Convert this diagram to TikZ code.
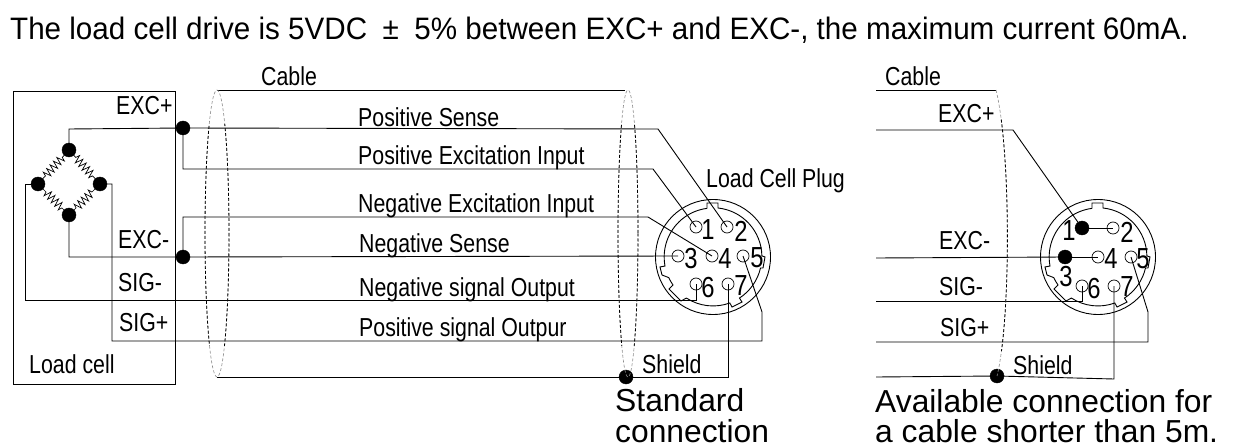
\documentclass[tikz,border=0pt]{standalone}
\usepackage{fontspec}
\setmainfont{Liberation Sans}
\newfontfamily\narrowf[FakeStretch=0.82]{Liberation Sans}
\newfontfamily\titlef[FakeStretch=0.955]{Liberation Sans}
\usetikzlibrary{decorations.pathmorphing,calc}
\tikzset{
  wire/.style={line width=0.9pt,black},
  lbl/.style={font=\narrowf\fontsize{26}{28}\selectfont,inner sep=0pt,anchor=base west,text=black},
  big/.style={font=\fontsize{31.8}{34}\selectfont,inner sep=0pt,anchor=base west},
  digit/.style={font=\narrowf\fontsize{29}{31}\selectfont,inner sep=0pt},
  dotn/.style={circle,fill=black,draw=black,inner sep=0pt,minimum size=14pt},
  pin/.style={circle,draw=black,line width=0.7pt,fill=none,inner sep=0pt,minimum size=12pt},
  resist/.style={line width=0.7pt,decorate,decoration={zigzag,segment length=5pt,amplitude=4pt,pre length=10pt,post length=10pt}},
  cabd/.style={line width=0.8pt,dash pattern=on 3pt off 2pt,black},
  cabg/.style={line width=0.6pt,dash pattern=on 3pt off 2pt,black!45},
}
\newcommand{\plugbody}[1]{%
  \begin{scope}[shift={(#1)},x=1pt,y=1pt]
  \draw[wire] (0,0) circle (57.5);
  \draw[wire] (-6,49) -- (-6,54) -- (5,54) -- (5,49)
    arc[start angle=84,end angle=1,radius=49]
    -- (52,0) -- (50,-11) -- (47.5,-11)
    arc[start angle=-13,end angle=-57,radius=49]
    -- (29,-45) -- (19,-50) -- (16.8,-46)
    arc[start angle=-70,end angle=-123,radius=49]
    -- (-32,-44) -- (-44,-32) -- (-40,-28)
    arc[start angle=-145,end angle=-155,radius=49]
    -- (-51,-18) -- (-53,-10) -- (-48,-9)
    arc[start angle=190.6,end angle=97,radius=49];
  \end{scope}}
\begin{document}
\begin{tikzpicture}[x=1pt,y=-1pt]
\useasboundingbox (0,0) rectangle (1233,446);
\fill[white] (0,0) rectangle (1233,446);
\node[big,font=\titlef\fontsize{31}{33}\selectfont] (title) at (10,40) {The load cell drive is 5VDC\enspace ±\enspace 5\% between EXC+ and EXC-, the maximum current 60mA.};
% load cell
\draw[wire] (13,91) rectangle (175,384);
\node[lbl] (le1) at (116,115) {EXC+};
\node[lbl] (le2) at (118,248) {EXC-};
\node[lbl] (ls1) at (118,291) {SIG-};
\node[lbl] (ls2) at (119,331) {SIG+};
\node[lbl] (lc) at (29,373) {Load cell};
\node[lbl] at (261,86) (cab1) {Cable};
% bridge
\node[dotn] (bt) at (69,150) {};
\node[dotn] (bl) at (38,184) {};
\node[dotn] (br) at (100,184) {};
\node[dotn] (bb) at (69,215) {};
\foreach \a/\b in {bt/bl,bt/br,bb/bl,bb/br}{\draw[resist] (\a.center) -- (\b.center);}
\node[dotn] (j1) at (183,128) {};
\node[dotn] (j2) at (183,257) {};
\node[dotn] (j3) at (626,377) {};
\coordinate (cs) at (713,257);
% connector 1
\plugbody{cs}
\node[pin] (p1) at (696,227) {};
\node[pin] (p2) at (727,227) {};
\node[pin] (p3) at (678,256) {};
\node[pin] (p4) at (712,256) {};
\node[pin] (p5) at (743,256) {};
\node[pin] (p6) at (696,284) {};
\node[pin] (p7) at (728,284) {};
\foreach \c/\t in {{(708,230)}/1,{(741,231)}/2,{(691,259)}/3,{(725,259)}/4,{(757,258)}/5,{(708,288)}/6,{(741,286)}/7}
  \node[digit] at \c {\t};
% wires left
\draw[wire] (bt) -- (69,129) -- (j1) -- (658,129) -- (p2.center);
\draw[wire] (j1) -- (183,169) -- (653,169) -- (p1.center);
\draw[wire] (j2) -- (183,217) -- (648,217) -- (p4.center);
\draw[wire] (bb) -- (69,257) -- (j2) -- (p3.center);
\draw[wire] (bl) -- (25,184) -- (25,300) -- (696,300) -- (p6.center);
\draw[wire] (br) -- (112,184) -- (112,341) -- (762,341) -- (762,312) -- (p5.center);
\draw[wire] (217,377) -- (j3) -- (728,377) -- (p7.center);
\draw[wire] (217,90) -- (625,90);
% labels
\node[lbl] (t1) at (358,127) {Positive Sense};
\node[lbl] (t2) at (358,165) {Positive Excitation Input};
\node[lbl] (t3) at (358,213) {Negative Excitation Input};
\node[lbl] (t4) at (359,253) {Negative Sense};
\node[lbl] (t5) at (359,296) {Negative signal Output};
\node[lbl] (t6) at (359,336) {Positive signal Outpur};
\node[lbl] (sh1) at (642,373) {Shield};
\node[lbl] (plug) at (706,188) {Load Cell Plug};
\node[big] (st1) at (615,411) {Standard};
\node[big] (st2) at (615,442) {connection};
% cable ellipses
\foreach \cx/\rx in {217/12,628/10}{
  \draw[cabg] (\cx,233.5) ellipse ({\rx} and 143.5);
  \begin{scope}
    \clip (0,125) rectangle (1233,345);
    \draw[cabd] (\cx,233.5) ellipse ({\rx} and 143.5);
  \end{scope}
}
% right part
\node[lbl] (cab2) at (885,86) {Cable};
\node[lbl] (re1) at (938,123) {EXC+};
\node[lbl] (re2) at (939,250) {EXC-};
\node[lbl] (rs1) at (939,295) {SIG-};
\node[lbl] (rs2) at (940,336) {SIG+};
\node[lbl] (sh2) at (1013,374) {Shield};
\coordinate (ds) at (1098,257);
\plugbody{ds}
\node[dotn] (r1) at (1082,228) {};
\node[pin] (r2) at (1113,228) {};
\node[dotn] (r3) at (1065,257) {};
\node[pin] (r4) at (1098,257) {};
\node[pin] (r5) at (1131,257) {};
\node[pin] (r6) at (1082,286) {};
\node[pin] (r7) at (1114,286) {};
\node[dotn] (j4) at (997,376) {};
\foreach \c/\t in {{(1069,231)}/1,{(1127,232)}/2,{(1066,277)}/3,{(1111,259)}/4,{(1143,259)}/5,{(1094,289)}/6,{(1127,287)}/7}
  \node[digit] at \c {\t};
\draw[wire] (r1) -- (r2.center);
\draw[wire] (r3) -- (r4.center);
\coordinate (w1) at (876,130); \coordinate (w2) at (876,258); \coordinate (w3) at (876,301);
\coordinate (w4) at (876,342); \coordinate (w5) at (876,377); \coordinate (w6) at (876,90);
\draw[wire] (w1) -- (1013,130) -- (r1);
\draw[wire] (w2) -- (r3);
\draw[wire] (w3) -- (1082,301) -- (r6.center);
\draw[wire] (w4) -- (1148,342) -- (1148,312) -- (r5.center);
\draw[wire] (w5) -- (j4) -- (1114,379) -- (r7.center);
\draw[wire] (w6) -- (996,90);
\coordinate (et) at (996,90); \coordinate (eb) at (997,376);
\draw[cabg] (et) .. controls (1011,150) and (1011,320) .. (eb);
\begin{scope}
  \clip (0,120) rectangle (1233,350);
  \draw[cabd] (et) .. controls (1011,150) and (1011,320) .. (eb);
\end{scope}
\node[big] (av1) at (875,412) {Available connection for};
\node[big] (av2) at (875,442) {a cable shorter than 5m.};
\end{tikzpicture}
\end{document}
